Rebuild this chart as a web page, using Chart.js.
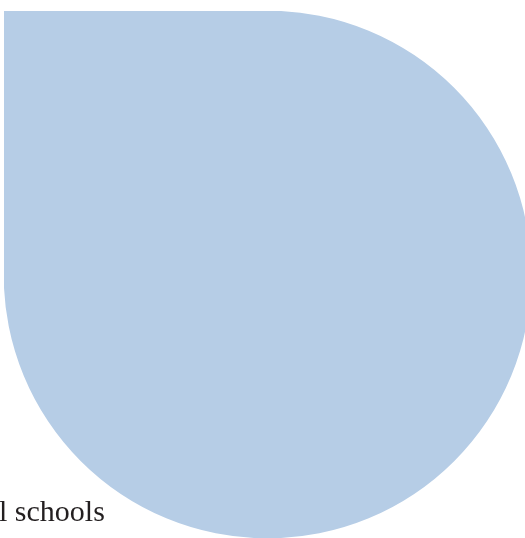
<!DOCTYPE html>
<html>
<head>
<meta charset="utf-8">
<script src="https://cdn.jsdelivr.net/npm/chart.js@4"></script>
<style>
  html, body { margin: 0; padding: 0; width: 525px; height: 538px; overflow: hidden; background: #fff; }
  #wrap { position: absolute; left: 4px; top: 11px; width: 527px; height: 527px; }
  .label { position: absolute; left: -1px; top: 496px; font-family: "Liberation Serif", serif; font-size: 30px; line-height: 30px; color: #231f20; white-space: nowrap; }
</style>
</head>
<body>
<div id="wrap"><canvas id="myChart" width="527" height="527"></canvas></div>
<div class="label">l schools</div>
<script>
const categories = ['schools'];
const values = [1];

const ctx = document.getElementById('myChart');

new Chart(ctx, {
  type: 'bar',
  data: {
    labels: categories,
    datasets: [{
      data: values,
      backgroundColor: 'rgb(182, 205, 230)',
      borderWidth: 0,
      borderSkipped: false,
      borderRadius: { topLeft: 0, topRight: 264, bottomLeft: 264, bottomRight: 264 },
      barPercentage: 1,
      categoryPercentage: 1
    }]
  },
  options: {
    responsive: false,
    animation: false,
    layout: { padding: 0 },
    plugins: {
      legend: { display: false },
      tooltip: { enabled: false }
    },
    scales: {
      x: { display: false },
      y: { display: false, min: 0, max: 1 }
    }
  }
});
</script>
</body>
</html>
